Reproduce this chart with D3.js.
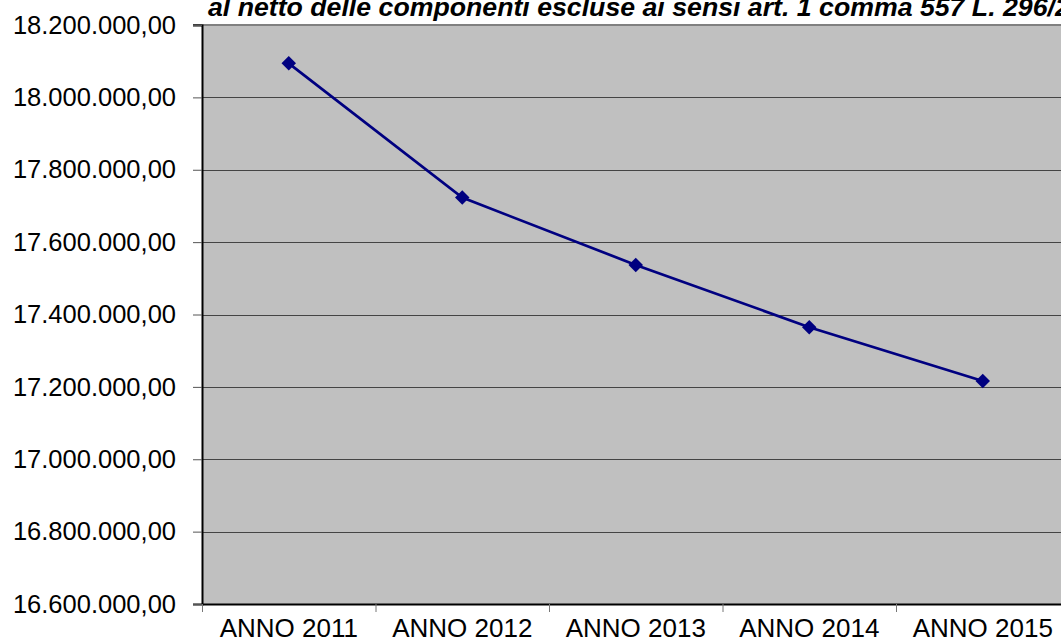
<!DOCTYPE html>
<html>
<head>
<meta charset="utf-8">
<script src="https://cdn.jsdelivr.net/npm/d3@7"></script>
<style>
  body { margin: 0; background: #fff; }
  svg { display: block; font-family: "Liberation Sans", Arial, sans-serif; }
</style>
</head>
<body>
<svg width="1061" height="643"></svg>
<script>
// chart data
const years = ['ANNO 2011', 'ANNO 2012', 'ANNO 2013', 'ANNO 2014', 'ANNO 2015'];
const spesa = [18094000, 17723000, 17537000, 17365000, 17216000];
const yTicks = [16600000, 16800000, 17000000, 17200000, 17400000, 17600000, 17800000, 18000000, 18200000];
const titleLine = 'al netto delle componenti escluse ai sensi art. 1 comma 557 L. 296/2006';

const svg = d3.select('svg');

const plotLeft = 202, plotTop = 25, plotBottom = 604;
const bandW = 173.5;
const plotRight = plotLeft + bandW * years.length;

const xScale = d3.scaleBand()
  .range([plotLeft, plotRight])
  .domain(years)
  .padding(0);

const yScale = d3.scaleLinear()
  .range([plotBottom, plotTop])
  .domain([16600000, 18200000]);

const fmt = v => d3.format(',.2f')(v).replace(/,/g, '#').replace('.', ',').replace(/#/g, '.');

// plot area
svg.append('rect')
  .attr('x', plotLeft)
  .attr('y', plotTop)
  .attr('width', plotRight - plotLeft)
  .attr('height', plotBottom - plotTop)
  .attr('fill', '#c0c0c0');

// grid lines
svg.append('g')
  .selectAll('line')
  .data(yTicks.filter(t => t > 16600000 && t < 18200000))
  .enter()
  .append('line')
  .attr('x1', plotLeft)
  .attr('x2', plotRight)
  .attr('y1', d => Math.round(yScale(d)) + 0.5)
  .attr('y2', d => Math.round(yScale(d)) + 0.5)
  .attr('stroke', '#444')
  .attr('stroke-width', 1);

// top border
svg.append('line')
  .attr('x1', plotLeft - 9).attr('x2', plotRight)
  .attr('y1', plotTop).attr('y2', plotTop)
  .attr('stroke', '#808080')
  .attr('stroke-width', 2);

// y axis
const yAxis = svg.append('g')
  .attr('transform', `translate(${plotLeft}, 0)`)
  .call(d3.axisLeft(yScale).tickValues(yTicks).tickFormat(fmt).tickSize(9).tickPadding(17));
yAxis.select('.domain').attr('stroke', '#000').attr('stroke-width', 2);
yAxis.selectAll('.tick line').attr('stroke', '#555');
yAxis.selectAll('.tick text')
  .style('font-size', '25.5px')
  .style('font-family', '"Liberation Sans", Arial, sans-serif')
  .attr('fill', '#000');

// x axis
const xAxis = svg.append('g')
  .attr('transform', `translate(0, ${plotBottom})`)
  .call(d3.axisBottom(xScale).tickSize(0).tickPadding(14.5));
xAxis.select('.domain').attr('stroke', '#000').attr('stroke-width', 2);
xAxis.selectAll('.tick text')
  .style('font-size', '26px')
  .style('font-family', '"Liberation Sans", Arial, sans-serif')
  .attr('fill', '#000');

// band boundary ticks
svg.append('g')
  .selectAll('line')
  .data(years.concat(['end']))
  .enter()
  .append('line')
  .attr('x1', (d, i) => plotLeft + i * xScale.step() + 0.5)
  .attr('x2', (d, i) => plotLeft + i * xScale.step() + 0.5)
  .attr('y1', plotBottom)
  .attr('y2', plotBottom + 8)
  .attr('stroke', '#777');

// line
const line = d3.line()
  .x((d, i) => xScale(years[i]) + xScale.bandwidth() / 2)
  .y(d => yScale(d));

svg.append('path')
  .datum(spesa)
  .attr('d', line)
  .attr('fill', 'none')
  .attr('stroke', '#000080')
  .attr('stroke-width', 2.7);

// diamond markers
svg.append('g')
  .selectAll('path')
  .data(spesa)
  .enter()
  .append('path')
  .attr('d', d3.symbol().type(d3.symbolSquare).size(105))
  .attr('transform', (d, i) => `translate(${xScale(years[i]) + xScale.bandwidth() / 2}, ${yScale(d)}) rotate(45)`)
  .attr('fill', '#000080');

// title (cut at the top, as in the original)
svg.append('text')
  .attr('x', 208)
  .attr('y', 16)
  .style('font-size', '26.7px')
  .attr('font-weight', 'bold')
  .attr('font-style', 'italic')
  .attr('fill', '#000')
  .text(titleLine);
</script>
</body>
</html>
